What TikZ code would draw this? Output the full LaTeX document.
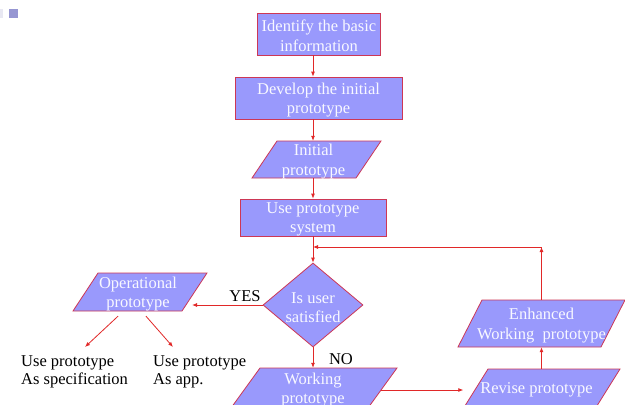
\documentclass[tikz,border=0pt]{standalone}
\usepackage{fontspec}
\setmainfont{Liberation Serif}
\usetikzlibrary{arrows.meta,shapes.geometric,calc}
\definecolor{shapefill}{RGB}{153,153,252}
\definecolor{shapeedge}{RGB}{205,55,85}
\definecolor{linered}{RGB}{225,40,40}
\definecolor{sqcol}{RGB}{150,150,210}
\definecolor{sqfaint}{RGB}{232,232,242}
\definecolor{intext}{RGB}{248,248,255}
\newcommand\pgram[8]{%
  \filldraw[shapestyle] ({#2-#4/2+#6/2},{#3-#5/2}) -- ({#2+#4/2+#6/2},{#3-#5/2}) -- ({#2+#4/2-#6/2},{#3+#5/2}) -- ({#2-#4/2-#6/2},{#3+#5/2}) -- cycle;
  \node[inner sep=0pt, minimum width=#4pt, minimum height=#5pt] (#1) at (#2,#3) {};
  \node[shapetext] (#1-t) at ($(#1)+#7$) {#8};
}
\begin{document}
\begin{tikzpicture}[x=1pt,y=-1pt,
  shapestyle/.style={fill=shapefill, draw=shapeedge, line width=0.8pt},
  shapetext/.style={text=intext, align=center, font=\fontsize{16.5}{19.5}\selectfont, inner sep=0pt},
  rectbox/.style={shapestyle, shapetext, inner sep=0pt},
  outtext/.style={text=black, align=left, font=\fontsize{16.5}{18.5}\selectfont, inner sep=0pt},
  arr/.style={draw=linered, line width=0.8pt, -{Latex[length=5pt,width=4pt]}}]
\useasboundingbox (0,0) rectangle (625,405);
\clip (0,0) rectangle (625,405);
\fill[white] (0,0) rectangle (625,405);
% small corner squares
\fill[sqfaint] (0,9) rectangle (3,18);
\fill[sqcol] (9,9) rectangle (18,18);
\coordinate (col) at (313,0);
% boxes
\node[rectbox, minimum width=123pt, minimum height=42pt] (b1) at (318.5,34) {};
\node[shapetext] (b1-t) at (319,36) {Identify the basic\\ information};
\node[rectbox, minimum width=167pt, minimum height=42pt] (b2) at (318.5,98) {};
\node[shapetext] (b2-t) at (318.5,100) {Develop the initial\\prototype};
\pgram{ip}{316.5}{159.5}{104}{37}{25}{(-3,2)}{Initial\\prototype}
\node[rectbox, minimum width=146pt, minimum height=37pt] (b4) at (313,217.5) {};
\node[shapetext] (b4-t) at (313,219.5) {Use prototype\\system};
\node[diamond, shapestyle, minimum width=100pt, minimum height=84pt, inner sep=0pt] (dia) at (313,305) {};
\node[shapetext] (dia-t) at (313,307.5) {Is user\\satisfied};
\pgram{op}{140}{292}{109}{38}{25}{(-2,2)}{Operational\\prototype}
\pgram{wp}{314}{388}{137}{40}{29}{(-1,2)}{Working\\prototype}
\pgram{rp}{541.5}{389}{132}{40}{25}{(-5,1)}{Revise prototype}
\pgram{ep}{541.5}{323.5}{143}{47}{24}{(0,2)}{Enhanced\\Working\ \ prototype}
% outside texts
\node[outtext, anchor=north west] (spec) at (21,355) {Use prototype\\As specification};
\node[outtext, anchor=north west] (app) at (153,355) {Use prototype\\As app.};
\node[outtext] (yes) at (245,296) {YES};
\node[outtext] (no) at (341,359) {NO};
% connectors
\draw[arr] (b1.south -| col) -- (b2.north -| col);
\draw[arr] (b2.south -| col) -- (ip.north -| col);
\draw[arr] (ip.south -| col) -- (b4.north -| col);
\draw[arr] (b4.south -| col) -- (dia.north);
\draw[arr] (dia.south) -- (wp.north -| dia.south);
\coordinate (opend) at (192,0);
\draw[arr] (dia.west) -- (dia.west -| opend);
\coordinate (s1) at ($(op.south)+(-22,5)$);
\coordinate (s2) at ($(op.south)+(6,5)$);
\coordinate (e1) at (85,347);
\coordinate (e2) at (173,347);
\draw[arr] (s1) -- (e1);
\draw[arr] (s2) -- (e2);
\draw[arr] ($(wp.east)+(-2,2)$) -- ($(rp.west |- wp.east)+(-12,2)$);
\draw[arr] (rp.north) -- (ep.south);
\coordinate (corner) at (541.5,247);
\draw[arr] (ep.north) -- (corner);
\draw[arr] (corner) -- (corner -| col);
\end{tikzpicture}
\end{document}
